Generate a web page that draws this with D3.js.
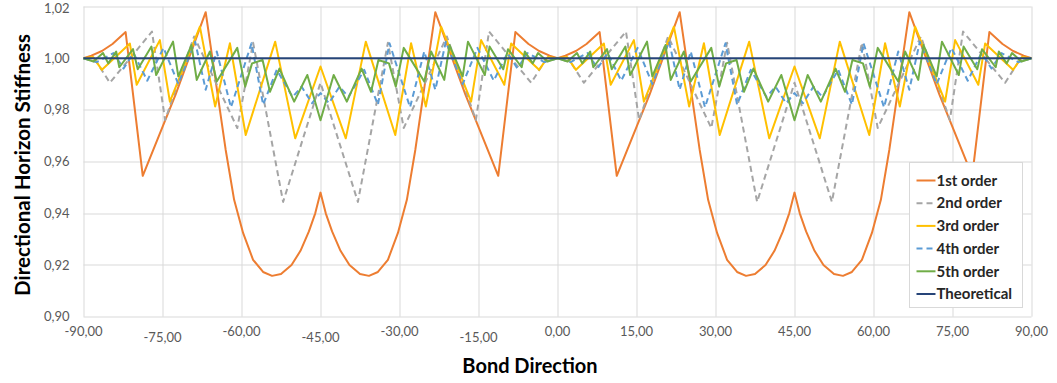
<!DOCTYPE html>
<html>
<head>
<meta charset="utf-8">
<script src="https://cdn.jsdelivr.net/npm/d3@7"></script>
<style>
  body { margin: 0; background: #fff; }
  svg { display: block; font-family: Lato, "Open Sans", sans-serif; }
</style>
</head>
<body>
<svg id="chart"></svg>
<script>
// values, bond direction -90..0 (the 0..90 half repeats it)
const deg1 = [-90, -88.5, -86.5, -84.5, -82, -78.75, -72.5, -66.8, -63, -61.4, -59.7, -57.8, -55.9, -54.2, -52.5, -50.5, -48.8, -47.2, -46, -45,
  -44, -42.8, -41.2, -39.5, -37.5, -35.8, -34.1, -32.2, -30.3, -28.6, -27, -23.2, -17.5, -11.25, -8, -5.5, -3.5, -1.5, 0];
const stiff1 = [1.000, 1.001, 1.0028, 1.0055, 1.0101, 0.9545, 0.986, 1.0178, 0.9645, 0.9452, 0.9324, 0.922, 0.9173, 0.9158, 0.9165, 0.920, 0.9255, 0.933, 0.940, 0.948,
  0.940, 0.933, 0.9255, 0.920, 0.9165, 0.9158, 0.9173, 0.922, 0.9324, 0.9452, 0.9645, 1.0178, 0.986, 0.9545, 1.0101, 1.0055, 1.0028, 1.001, 1.000];

const deg2 = [-90, -87.5, -85, -77, -74.5, -69, -60.8, -57.8, -52.1, -45, -37.9, -32.2, -29.2, -21, -15.5, -13, -5, -2.5, 0];
const stiff2 = [1.000, 0.9985, 0.9905, 1.0103, 0.9761, 1.0084, 0.973, 1.006, 0.9444, 0.9905, 0.9444, 1.006, 0.973, 1.0084, 0.9761, 1.0103, 0.9905, 0.9985, 1.000];

const deg3 = [-90, -88.2, -86.5, -81.2, -79.9, -75.5, -73.6, -67.9, -65, -62.2, -59.2, -53.6, -49.8, -45,
  -40.2, -36.4, -30.8, -27.8, -25, -22.1, -16.4, -14.5, -10.1, -8.8, -3.5, -1.8, 0];
const stiff3 = [1.000, 1.0005, 0.9955, 1.0057, 0.9897, 1.0070, 0.9832, 1.0122, 0.9813, 1.0058, 0.9703, 1.0064, 0.969, 0.9968,
  0.969, 1.0064, 0.9703, 1.0058, 0.9813, 1.0122, 0.9832, 1.0070, 0.9897, 1.0057, 0.9955, 1.0005, 1.000];

const deg4 = [-90, -87.5, -84.3, -82.4, -80.5, -77.9, -74.8, -72, -68.8, -66.8, -64.7, -62, -58.1, -55.9, -53.3, -50.3, -48.6, -46.6, -45,
  -43.4, -41.4, -39.7, -36.7, -34.1, -31.9, -28, -25.3, -23.2, -21.2, -18, -15.2, -12.1, -9.5, -7.6, -5.7, -2.5, 0];
const stiff4 = [1.000, 0.9985, 1.002, 0.996, 1.002, 0.9913, 1.004, 0.990, 1.0064, 0.9878, 1.0026, 0.981, 1.0058, 0.982, 0.9955, 0.985, 0.989, 0.9826, 0.9865,
  0.9826, 0.989, 0.985, 0.9955, 0.982, 1.0058, 0.981, 1.0026, 0.9878, 1.0064, 0.990, 1.004, 0.9913, 1.002, 0.996, 1.002, 0.9985, 1.000];

const deg5 = [-90, -88.1, -86.3, -85.3, -83.8, -83.2, -80.6, -79.7, -77.1, -76.2, -73, -72, -69.5, -68.5, -66, -64.7, -60.8, -59.3, -58, -56, -54.6, -52.8, -50, -47.5, -45,
  -42.5, -40, -37.2, -35.4, -34, -32, -30.7, -29.2, -25.3, -24, -21.5, -20.5, -18, -17, -13.8, -12.9, -10.3, -9.4, -6.8, -6.2, -4.7, -3.7, -1.9, 0];
const stiff5 = [1.000, 0.9987, 1.002, 0.998, 1.0026, 0.9965, 1.0035, 0.9957, 1.0045, 0.9935, 1.0064, 0.993, 1.0051, 0.9916, 1.0026, 0.991, 1.004, 0.989, 0.998, 0.9993, 0.987, 0.996, 0.9832, 0.9935, 0.976,
  0.9935, 0.9832, 0.996, 0.987, 0.9993, 0.998, 0.989, 1.004, 0.991, 1.0026, 0.9916, 1.0051, 0.993, 1.0064, 0.9935, 1.0045, 0.9957, 1.0035, 0.9965, 1.0026, 0.998, 1.002, 0.9987, 1.000];

const degTheory = [-90, 90];
const stiffTheory = [1.000, 1.000];

const seriesNames = ["1st order", "2nd order", "3rd order", "4th order", "5th order", "Theoretical"];
const seriesColors = ["#ED7D31", "#A5A5A5", "#FFC000", "#5B9BD5", "#70AD47", "#264478"];
const seriesDash = [null, "6,4", null, "6,4", null, null];

const xTicks = [-90, -75, -60, -45, -30, -15, 0, 15, 30, 45, 60, 75, 90];
const yTicks = [0.90, 0.92, 0.94, 0.96, 0.98, 1.00, 1.02];
const loweredTicks = [-75, -45, -15];

const width = 1057, height = 383;
const margin = { top: 6.5, right: 25.5, bottom: 66.3, left: 83.5 };

const svg = d3.select("#chart").attr("width", width).attr("height", height);
const g = svg.append("g").attr("transform", "translate(" + margin.left + "," + margin.top + ")");
const w = width - margin.left - margin.right;
const h = height - margin.top - margin.bottom;

const x = d3.scaleLinear().domain([-90, 90]).range([0, w]);
const y = d3.scaleLinear().domain([0.90, 1.02]).range([h, 0]);

// excel style: plain hyphen, decimal comma
const comma = v => v.toFixed(2).replace(".", ",");

// grid
g.append("g")
  .selectAll("line")
  .data(yTicks)
  .enter()
  .append("line")
  .attr("x1", 0).attr("x2", w)
  .attr("y1", d => Math.round(y(d)) + 0.5).attr("y2", d => Math.round(y(d)) + 0.5)
  .style("stroke", "#d9d9d9");
g.append("g")
  .selectAll("line")
  .data(xTicks)
  .enter()
  .append("line")
  .attr("y1", 0).attr("y2", h)
  .attr("x1", d => Math.round(x(d)) + 0.5).attr("x2", d => Math.round(x(d)) + 0.5)
  .style("stroke", "#d9d9d9");

// y labels (top one nudged so it isn't clipped by the page edge)
g.append("g")
  .selectAll("text")
  .data(yTicks)
  .enter()
  .append("text")
  .attr("x", -14)
  .attr("y", d => Math.max(y(d), 2))
  .attr("dy", "0.35em")
  .attr("text-anchor", "end")
  .style("font-size", "13px")
  .style("fill", "#595959")
  .text(comma);

// x labels, some sit a bit lower like in the original
g.append("g")
  .selectAll("text")
  .data(xTicks)
  .enter()
  .append("text")
  .attr("x", d => x(d))
  .attr("y", d => h + (loweredTicks.includes(d) ? 21 : 15))
  .attr("dy", "0.35em")
  .attr("text-anchor", "middle")
  .style("font-size", "13px")
  .style("fill", "#595959")
  .text(comma);

// axis titles
svg.append("text")
  .attr("transform", "translate(23,165) rotate(-90)")
  .attr("dy", "0.35em")
  .attr("text-anchor", "middle")
  .style("font-size", "20.5px")
  .style("font-weight", "bold")
  .style("fill", "#000")
  .text("Directional Horizon Stiffness");
svg.append("text")
  .attr("x", 530)
  .attr("y", 366)
  .attr("dy", "0.35em")
  .attr("text-anchor", "middle")
  .style("font-size", "20px")
  .style("font-weight", "bold")
  .style("fill", "#000")
  .text("Bond Direction");

// build each series: the -90..0 readings, then the same pattern again on 0..90
function fullSeries(degs, vals) {
  let pts = degs.map((d, i) => [d, vals[i]]);
  let shifted = degs.slice(1).map((d, i) => [d + 90, vals[i + 1]]);
  return pts.concat(shifted);
}
const series = [
  fullSeries(deg1, stiff1),
  fullSeries(deg2, stiff2),
  fullSeries(deg3, stiff3),
  fullSeries(deg4, stiff4),
  fullSeries(deg5, stiff5),
  degTheory.map((d, i) => [d, stiffTheory[i]])
];

const line = d3.line()
  .x(d => x(d[0]))
  .y(d => y(d[1]));

g.append("g")
  .selectAll("path")
  .data(series)
  .enter()
  .append("path")
  .attr("d", line)
  .attr("fill", "none")
  .style("stroke", (d, i) => seriesColors[i])
  .style("stroke-width", 2)
  .style("stroke-linejoin", "round")
  .style("stroke-dasharray", (d, i) => seriesDash[i]);

// legend
const legend = svg.append("g").attr("transform", "translate(909.5,162.5)");
legend.append("rect")
  .attr("width", 113)
  .attr("height", 145)
  .style("fill", "#fff")
  .style("stroke", "#d9d9d9");
const items = legend.selectAll("g.item")
  .data(seriesNames)
  .enter()
  .append("g")
  .attr("class", "item")
  .attr("transform", (d, i) => "translate(0," + (18 + i * 22.7) + ")");
items.append("line")
  .attr("x1", 7).attr("x2", 26)
  .style("stroke", (d, i) => seriesColors[i])
  .style("stroke-width", 2)
  .style("stroke-dasharray", (d, i) => seriesDash[i]);
items.append("text")
  .attr("x", 27)
  .attr("dy", "0.35em")
  .style("font-size", "15px")
  .style("font-weight", "bold")
  .style("fill", "#262626")
  .text(d => d);
</script>
</body>
</html>
